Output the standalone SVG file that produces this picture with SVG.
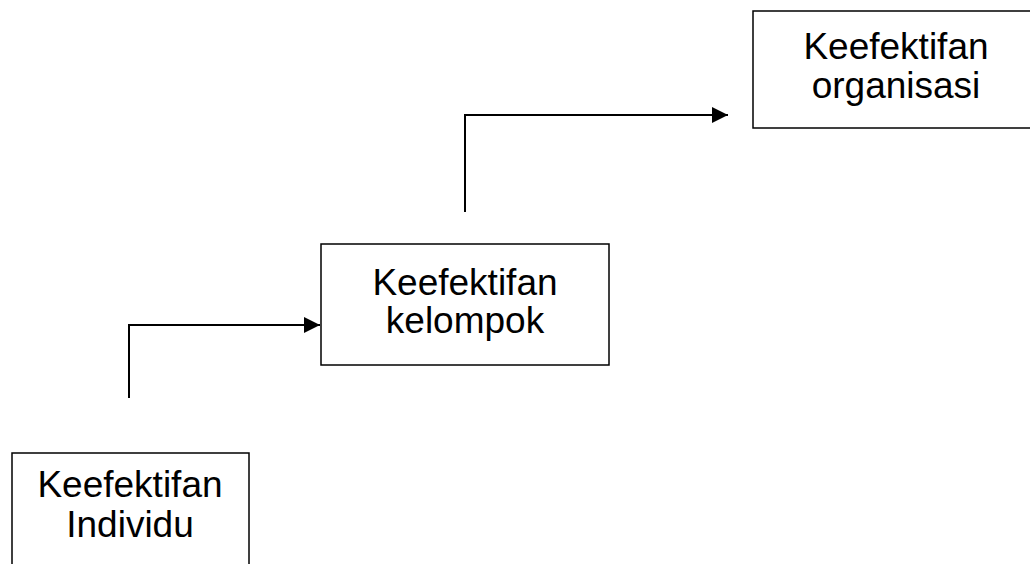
<svg xmlns="http://www.w3.org/2000/svg" width="1030" height="564" viewBox="0 0 1030 564">
<style>
.box{fill:#fff;stroke:#000;stroke-width:1.5}
.lbl{font-family:"Liberation Sans",Arial,sans-serif;font-size:37px;fill:#000;text-anchor:middle}
.con{fill:none;stroke:#000;stroke-width:2}
</style>
<defs>
<marker id="arr" markerUnits="userSpaceOnUse" markerWidth="16" markerHeight="16" refX="16" refY="8" orient="auto">
<path d="M0,0 L16,8 L0,16 Z" fill="#000"/>
</marker>
</defs>
<rect width="1030" height="564" fill="#fff"/>
<g id="connectors">
<path class="con" d="M129,398 V325 H320" marker-end="url(#arr)"/>
<path class="con" d="M465,212 V115 H728" marker-end="url(#arr)"/>
</g>
<g id="node-organisasi">
<rect class="box" x="753" y="11" width="286" height="117"/>
<text class="lbl" x="896" y="59">Keefektifan</text>
<text class="lbl" x="896" y="98">organisasi</text>
</g>
<g id="node-kelompok">
<rect class="box" x="321" y="244" width="288" height="121"/>
<text class="lbl" x="465" y="295">Keefektifan</text>
<text class="lbl" x="465" y="333">kelompok</text>
</g>
<g id="node-individu">
<rect class="box" x="12" y="453" width="237" height="130"/>
<text class="lbl" x="130" y="497">Keefektifan</text>
<text class="lbl" x="130" y="537">Individu</text>
</g>
</svg>
